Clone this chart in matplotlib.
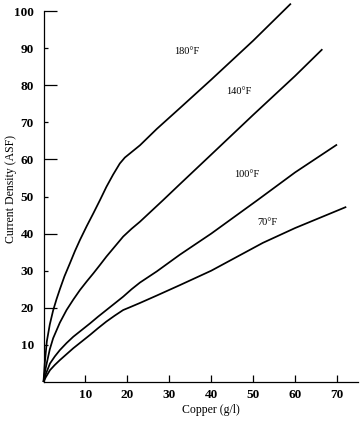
import matplotlib
matplotlib.use("Agg")
import matplotlib.pyplot as plt
from matplotlib.ticker import FixedLocator, ScalarFormatter

# Data (Copper g/l vs Current Density ASF)
cu_180 = [0, 0.3, 0.8, 1.5, 2.3, 3.1, 3.9, 5.0, 6.3, 7.5, 8.7, 10.3, 11.9, 13.5, 15, 16.6, 18.2, 19.4, 20.6, 23, 27, 32.5, 40, 50, 59]
cd_180 = [0, 5, 11, 15.5, 19.3, 22.3, 25.0, 28.5, 32, 35.3, 38.3, 42, 45.5, 49.1, 52.6, 55.9, 58.9, 60.5, 61.6, 63.8, 68.2, 73.8, 81.5, 92, 102]

cu_140 = [0, 0.3, 0.76, 1.5, 2.3, 3.9, 5.5, 7.1, 8.7, 10.3, 11.9, 13.5, 15, 17, 19, 21, 23, 28.5, 32.5, 40, 50, 60, 66.5]
cd_140 = [0, 2.5, 5, 8.8, 11.8, 16, 19.4, 22.2, 24.8, 27.1, 29.3, 31.6, 33.8, 36.5, 39.2, 41.3, 43.2, 49, 53.3, 61.3, 72, 82.5, 89.7]

cu_100 = [0, 0.5, 1.55, 2.7, 3.9, 5.5, 7.1, 9.1, 11.1, 13, 15, 17, 19, 21, 23, 27, 32.5, 40, 51, 60, 70]
cd_100 = [0, 2, 5, 6.9, 8.6, 10.5, 12.2, 14, 15.8, 17.6, 19.4, 21.2, 23, 25, 26.8, 29.8, 34.3, 40, 49, 56.5, 64]

cu_70 = [0, 0.5, 1.55, 2.7, 3.9, 5.5, 7.1, 9.1, 11.1, 13, 15, 17, 19, 20.5, 23, 27, 32.5, 40, 52.3, 60, 72.2]
cd_70 = [0, 1.2, 3.2, 4.6, 5.9, 7.5, 9.1, 10.9, 12.7, 14.5, 16.3, 17.9, 19.4, 20.1, 21.3, 23.3, 26.1, 30, 37.5, 41.5, 47.2]

series = [
    (cu_180, cd_180, "180°F", (34.2, 89)),
    (cu_140, cd_140, "140°F", (46.6, 78.4)),
    (cu_100, cd_100, "100°F", (48.5, 55.8)),
    (cu_70, cd_70, "70°F", (53.4, 42.9)),
]

x_ticks = [10, 20, 30, 40, 50, 60, 70]
y_major = [20, 40, 60, 80, 100]
y_minor = [10, 30, 50, 70, 90]

fig = plt.figure(figsize=(3.6, 4.22), dpi=100)
ax = fig.add_axes([43.5 / 360, 1 - 382 / 422, (358 - 43.5) / 360, (382 - 11) / 422])

for xs, ys, lab, pos in series:
    ax.plot(xs, ys, color="black", lw=1.25, clip_on=False,
            solid_joinstyle="round", solid_capstyle="butt")
    ax.text(pos[0], pos[1], lab, fontsize=7.5, family="Liberation Serif",
            ha="center", va="center")

ax.set_xlim(0, 75)
ax.set_ylim(0, 100)
ax.spines["top"].set_visible(False)
ax.spines["right"].set_visible(False)
for s in ("left", "bottom"):
    ax.spines[s].set_linewidth(0.9)

ax.xaxis.set_major_locator(FixedLocator(x_ticks))
ax.yaxis.set_major_locator(FixedLocator(y_major))
ax.yaxis.set_minor_locator(FixedLocator(y_minor))
ax.yaxis.set_minor_formatter(ScalarFormatter())
ax.tick_params(axis="x", direction="in", length=5, width=0.9, pad=5)
ax.tick_params(axis="y", which="major", direction="in", length=9, width=0.9, pad=7)
ax.tick_params(axis="y", which="minor", direction="in", length=3, width=0.9, pad=7)
for lbl in ax.get_xticklabels() + ax.get_yticklabels() + ax.get_yticklabels(minor=True):
    lbl.set_family("Liberation Serif")
    lbl.set_fontweight("bold")
    lbl.set_fontsize(9.5)

ax.set_xlabel("Copper (g/l)", family="Liberation Serif", fontsize=8.5)
ax.set_ylabel("Current Density (ASF)", family="Liberation Serif", fontsize=8.5)
ax.xaxis.set_label_coords(0.533, -0.058)
ax.yaxis.set_label_coords(-0.085, 0.52)

fig.savefig("out.png", dpi=100)
